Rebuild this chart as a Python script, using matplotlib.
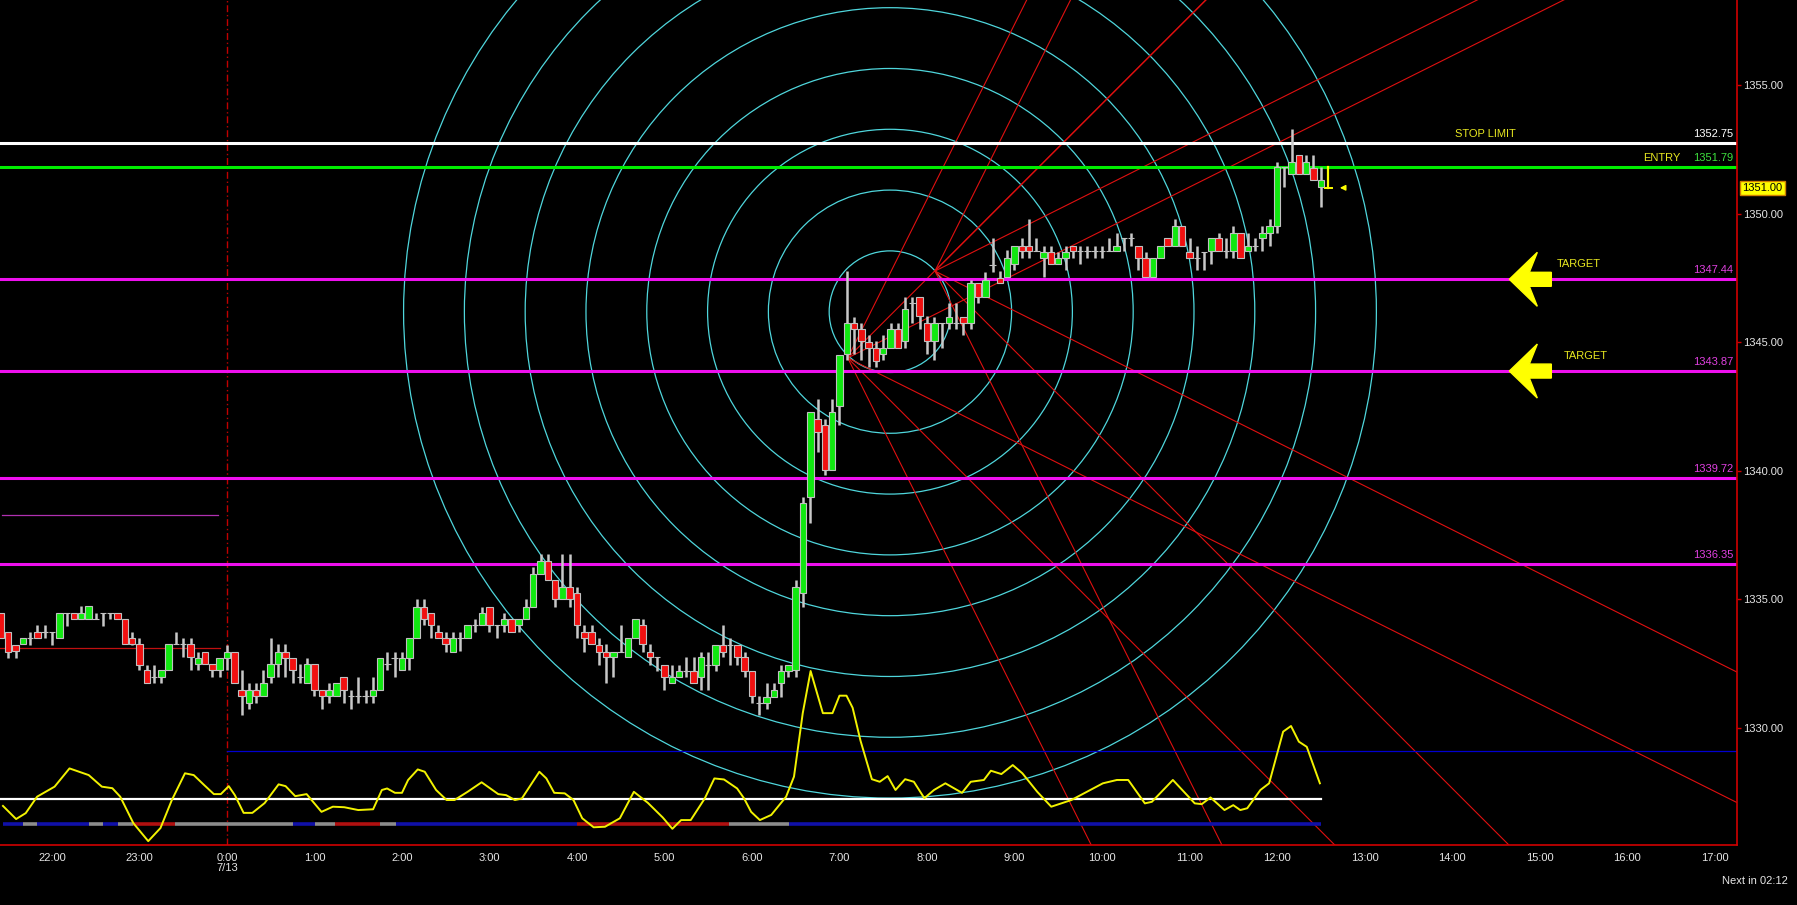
import numpy as np
import matplotlib
matplotlib.use("Agg")
import matplotlib.pyplot as plt
from matplotlib.patches import Ellipse
from matplotlib.transforms import blended_transform_factory

plt.rcParams['font.family'] = ['Liberation Sans', 'DejaVu Sans']

# ---------------- data ----------------
first_bar_hour = -31 / 12.0          # 21:25 on the previous day, 5-minute bars
opens = [
    1334.47, 1333.73, 1333.21, 1333.24, 1333.47, 1333.73, 1333.73, 1333.73, 1333.47, 1334.47,
    1334.47, 1334.21, 1334.21, 1334.21, 1334.47, 1334.47, 1334.47, 1334.21, 1333.47, 1333.24,
    1332.24, 1331.95, 1331.95, 1332.24, 1333.24, 1333.24, 1333.24, 1332.47, 1332.95, 1332.47,
    1332.24, 1332.72, 1332.95, 1331.48, 1330.97, 1331.48, 1331.22, 1331.95, 1332.47, 1332.95,
    1332.72, 1331.95, 1331.72, 1332.47, 1331.48, 1331.22, 1331.22, 1331.95, 1331.22, 1331.22,
    1331.22, 1331.22, 1331.48, 1332.47, 1332.72, 1332.24, 1332.72, 1333.47, 1334.70, 1334.47,
    1333.73, 1333.47, 1332.95, 1333.47, 1333.47, 1333.99, 1333.99, 1334.70, 1333.99, 1333.99,
    1334.22, 1333.99, 1334.22, 1334.70, 1335.99, 1336.49, 1335.74, 1334.99, 1335.48, 1335.22,
    1333.73, 1333.73, 1333.21, 1332.95, 1332.73, 1332.95, 1332.73, 1333.47, 1333.99, 1332.95,
    1332.73, 1332.43, 1331.72, 1331.95, 1332.20, 1332.20, 1331.95, 1332.43, 1332.43, 1333.21,
    1333.21, 1333.21, 1332.73, 1332.20, 1330.97, 1330.97, 1331.20, 1331.72, 1332.20, 1332.24,
    1335.22, 1338.98, 1341.99, 1341.77, 1340.02, 1342.52, 1344.53, 1345.75, 1345.51, 1345.01,
    1344.75, 1344.53, 1344.75, 1345.51, 1345.05, 1346.50, 1346.76, 1345.75, 1345.05, 1345.75,
    1345.75, 1345.75, 1345.99, 1345.75, 1347.28, 1346.76, 1348.00, 1347.48, 1347.54, 1348.03,
    1348.73, 1348.73, 1348.55, 1348.26, 1348.51, 1348.03, 1348.26, 1348.73, 1348.55, 1348.55,
    1348.55, 1348.55, 1348.55, 1348.55, 1349.03, 1349.03, 1348.73, 1348.26, 1347.54, 1348.26,
    1349.03, 1348.73, 1349.51, 1348.51, 1348.26, 1348.51, 1348.55, 1349.03, 1348.55, 1348.55,
    1349.25, 1348.55, 1348.73, 1349.03, 1349.25, 1349.51, 1351.79, 1351.54, 1352.28, 1351.54,
    1351.76, 1351.04]
highs = [
    1334.47, 1333.73, 1333.21, 1333.47, 1333.73, 1333.99, 1333.99, 1333.73, 1334.47, 1334.47,
    1334.47, 1334.73, 1334.73, 1334.47, 1334.47, 1334.47, 1334.47, 1334.21, 1333.73, 1333.47,
    1332.43, 1332.43, 1332.24, 1333.24, 1333.73, 1333.47, 1333.47, 1332.95, 1332.95, 1332.47,
    1332.72, 1333.21, 1332.95, 1332.24, 1331.72, 1331.72, 1332.24, 1333.47, 1333.24, 1333.24,
    1332.72, 1332.47, 1332.72, 1332.47, 1331.48, 1331.72, 1331.72, 1331.95, 1331.48, 1331.95,
    1331.48, 1331.95, 1332.72, 1332.95, 1332.95, 1332.95, 1333.47, 1334.99, 1334.99, 1334.47,
    1333.99, 1333.73, 1333.73, 1333.73, 1333.99, 1334.22, 1334.70, 1334.70, 1333.99, 1334.47,
    1334.22, 1334.22, 1334.99, 1336.23, 1336.75, 1336.75, 1335.74, 1336.75, 1336.75, 1335.48,
    1333.99, 1333.99, 1333.47, 1333.25, 1332.95, 1333.99, 1333.47, 1334.22, 1334.22, 1333.25,
    1332.73, 1332.43, 1332.43, 1332.43, 1332.73, 1332.73, 1332.95, 1332.95, 1333.21, 1333.99,
    1333.47, 1333.21, 1332.95, 1332.20, 1331.24, 1331.72, 1331.72, 1332.43, 1332.43, 1335.74,
    1338.98, 1342.26, 1342.77, 1341.99, 1342.77, 1344.49, 1347.77, 1345.99, 1345.75, 1345.27,
    1345.05, 1345.27, 1345.75, 1345.75, 1346.76, 1346.76, 1346.76, 1346.01, 1345.99, 1345.75,
    1346.50, 1346.50, 1345.99, 1347.41, 1347.28, 1347.74, 1349.03, 1347.77, 1348.58, 1348.73,
    1349.03, 1349.77, 1349.03, 1348.73, 1348.73, 1348.51, 1348.73, 1348.73, 1348.73, 1348.73,
    1348.73, 1348.73, 1349.03, 1349.25, 1349.03, 1349.25, 1348.73, 1348.51, 1348.26, 1348.73,
    1349.03, 1349.77, 1349.51, 1349.03, 1348.73, 1348.51, 1349.03, 1349.25, 1349.03, 1349.51,
    1349.25, 1349.25, 1349.03, 1349.51, 1349.77, 1352.02, 1351.79, 1353.27, 1352.28, 1352.28,
    1352.28, 1351.79]
lows = [
    1333.47, 1332.72, 1332.72, 1333.24, 1333.21, 1333.47, 1333.47, 1333.21, 1333.47, 1333.96,
    1334.21, 1334.21, 1334.21, 1334.21, 1333.96, 1334.21, 1334.21, 1333.24, 1333.21, 1332.24,
    1331.72, 1331.72, 1331.72, 1332.24, 1333.24, 1332.76, 1332.24, 1332.24, 1332.47, 1331.95,
    1331.95, 1332.24, 1331.72, 1330.49, 1330.71, 1330.97, 1331.22, 1331.72, 1331.95, 1331.95,
    1331.72, 1331.72, 1331.72, 1331.22, 1330.71, 1330.97, 1331.22, 1330.97, 1330.71, 1330.97,
    1330.97, 1330.97, 1331.48, 1332.24, 1331.95, 1332.24, 1332.24, 1333.47, 1333.99, 1333.47,
    1333.47, 1332.95, 1332.95, 1332.99, 1333.47, 1333.73, 1333.99, 1333.73, 1333.47, 1333.73,
    1333.73, 1333.73, 1334.22, 1334.70, 1335.99, 1335.74, 1334.70, 1334.99, 1334.70, 1333.47,
    1332.95, 1333.25, 1332.43, 1331.72, 1331.95, 1332.95, 1332.73, 1333.47, 1332.95, 1332.43,
    1332.20, 1331.46, 1331.72, 1331.95, 1331.95, 1331.72, 1331.46, 1331.46, 1332.20, 1332.73,
    1332.43, 1332.43, 1331.95, 1330.97, 1330.49, 1330.74, 1331.20, 1331.20, 1331.95, 1331.95,
    1334.70, 1337.94, 1340.73, 1339.82, 1340.02, 1341.77, 1344.30, 1344.53, 1344.30, 1344.04,
    1344.04, 1344.30, 1344.75, 1344.75, 1344.75, 1345.75, 1345.51, 1344.53, 1344.30, 1344.75,
    1345.51, 1345.51, 1345.27, 1345.51, 1346.50, 1346.76, 1347.74, 1347.28, 1347.54, 1347.80,
    1348.26, 1348.26, 1348.55, 1347.54, 1348.03, 1348.03, 1347.80, 1348.26, 1348.03, 1348.26,
    1348.26, 1348.26, 1348.55, 1348.55, 1348.55, 1348.73, 1347.80, 1347.54, 1347.54, 1348.26,
    1348.73, 1348.73, 1348.73, 1348.26, 1347.80, 1347.80, 1348.03, 1348.55, 1348.26, 1348.26,
    1348.26, 1348.55, 1348.55, 1348.55, 1348.73, 1349.25, 1351.04, 1351.54, 1351.54, 1351.54,
    1351.30, 1350.27]
closes = [
    1333.47, 1332.95, 1332.98, 1333.47, 1333.47, 1333.47, 1333.73, 1333.73, 1334.47, 1334.47,
    1334.21, 1334.47, 1334.73, 1334.21, 1334.47, 1334.47, 1334.21, 1333.24, 1333.24, 1332.43,
    1331.72, 1331.95, 1332.24, 1333.24, 1333.24, 1333.24, 1332.76, 1332.72, 1332.47, 1332.24,
    1332.72, 1332.95, 1331.72, 1331.22, 1331.48, 1331.22, 1331.72, 1332.47, 1332.95, 1332.72,
    1332.24, 1331.95, 1332.47, 1331.48, 1331.22, 1331.48, 1331.72, 1331.48, 1331.22, 1331.22,
    1331.22, 1331.48, 1332.72, 1332.47, 1332.72, 1332.72, 1333.47, 1334.70, 1334.22, 1333.99,
    1333.47, 1333.25, 1333.47, 1333.47, 1333.99, 1333.99, 1334.47, 1333.99, 1333.99, 1334.22,
    1333.73, 1334.22, 1334.70, 1335.99, 1336.49, 1335.74, 1334.99, 1335.48, 1334.99, 1333.99,
    1333.47, 1333.25, 1332.95, 1332.73, 1332.95, 1332.95, 1333.47, 1334.22, 1333.25, 1332.73,
    1332.73, 1331.95, 1331.95, 1332.20, 1332.20, 1331.72, 1332.73, 1332.43, 1333.21, 1332.95,
    1333.21, 1332.73, 1332.20, 1331.24, 1330.97, 1331.20, 1331.46, 1332.20, 1332.43, 1335.48,
    1338.72, 1342.26, 1341.51, 1340.02, 1342.26, 1344.49, 1345.75, 1345.51, 1345.05, 1344.75,
    1344.26, 1344.75, 1345.51, 1344.75, 1346.27, 1346.50, 1346.01, 1345.05, 1345.75, 1345.75,
    1345.99, 1345.75, 1345.75, 1347.28, 1346.76, 1347.41, 1348.00, 1347.28, 1348.26, 1348.73,
    1348.55, 1348.55, 1348.55, 1348.51, 1348.03, 1348.26, 1348.51, 1348.55, 1348.55, 1348.55,
    1348.55, 1348.55, 1348.55, 1348.73, 1349.03, 1349.03, 1348.26, 1347.54, 1348.26, 1348.73,
    1348.73, 1349.51, 1348.73, 1348.26, 1348.26, 1348.51, 1349.03, 1348.55, 1348.55, 1349.25,
    1348.26, 1348.73, 1348.73, 1349.25, 1349.51, 1351.79, 1351.79, 1352.02, 1351.54, 1352.02,
    1351.30, 1351.30]

# current (forming) bar
cur_open, cur_close = 1351.79, 1351.00
last_price = 1351.00

# oscillator (drawn on the price scale)
osc_hours = [-2.56, -2.41, -2.30, -2.17, -1.97, -1.80, -1.58, -1.43, -1.31, -1.22,
             -1.07, -0.90, -0.76, -0.63, -0.48, -0.38, -0.26, -0.15, -0.07, 0.02,
             0.09, 0.19, 0.29, 0.43, 0.59, 0.67, 0.78, 0.91, 1.08, 1.21,
             1.34, 1.50, 1.67, 1.77, 1.83, 1.92, 2.00, 2.07, 2.18, 2.26,
             2.39, 2.51, 2.60, 2.75, 2.91, 3.10, 3.19, 3.29, 3.37, 3.47,
             3.57, 3.65, 3.74, 3.86, 3.96, 4.06, 4.19, 4.32, 4.49, 4.65,
             4.81, 4.98, 5.09, 5.19, 5.30, 5.46, 5.57, 5.68, 5.83, 5.91,
             5.99, 6.09, 6.22, 6.39, 6.48, 6.58, 6.67, 6.81, 6.92, 7.00,
             7.08, 7.15, 7.24, 7.37, 7.46, 7.55, 7.64, 7.75, 7.85, 7.97,
             8.08, 8.21, 8.40, 8.50, 8.65, 8.73, 8.85, 8.98, 9.09, 9.26,
             9.42, 9.65, 10.01, 10.17, 10.30, 10.49, 10.57, 10.81, 11.06, 11.14,
             11.24, 11.40, 11.50, 11.58, 11.66, 11.81, 11.91, 12.07, 12.16, 12.25,
             12.34, 12.49]
osc_vals = [1326.95, 1326.44, 1326.67, 1327.31, 1327.70, 1328.41, 1328.15, 1327.70, 1327.64, 1327.31,
            1326.28, 1325.58, 1326.09, 1327.18, 1328.22, 1328.15, 1327.76, 1327.41, 1327.41, 1327.72,
            1327.37, 1326.68, 1326.68, 1327.06, 1327.79, 1327.72, 1327.33, 1327.41, 1326.72, 1326.92,
            1326.90, 1326.79, 1326.82, 1327.57, 1327.63, 1327.46, 1327.46, 1327.96, 1328.37, 1328.28,
            1327.57, 1327.18, 1327.18, 1327.50, 1327.87, 1327.41, 1327.37, 1327.18, 1327.24, 1327.76,
            1328.28, 1328.02, 1327.46, 1327.44, 1327.18, 1326.47, 1326.12, 1326.14, 1326.47, 1327.50,
            1327.07, 1326.50, 1326.06, 1326.40, 1326.40, 1327.24, 1328.02, 1327.98, 1327.63, 1327.24,
            1326.72, 1326.40, 1326.60, 1327.31, 1328.09, 1330.56, 1332.20, 1330.56, 1330.56, 1331.24,
            1331.24, 1330.77, 1329.49, 1327.99, 1327.89, 1328.11, 1327.57, 1327.99, 1327.89, 1327.25,
            1327.57, 1327.83, 1327.46, 1327.89, 1327.96, 1328.32, 1328.19, 1328.54, 1328.22, 1327.50,
            1326.92, 1327.18, 1327.83, 1327.96, 1327.96, 1327.05, 1327.11, 1327.96, 1327.05, 1327.02,
            1327.28, 1326.79, 1326.98, 1326.79, 1326.86, 1327.57, 1327.83, 1329.84, 1330.06, 1329.45,
            1329.25, 1327.83]
osc_mid_level = 1327.22
osc_end_hour = 12.5

# state bar of the oscillator: (start hour, end hour, state)
state_starts = [-2.56, -2.33, -2.17, -1.58, -1.42, -1.25, -1.07, -0.59, 0.75, 1.01, 1.24, 1.75, 1.93, 4.00, 5.74, 6.42]
state_ends = [-2.33, -2.17, -1.58, -1.42, -1.25, -1.07, -0.59, 0.75, 1.01, 1.24, 1.75, 1.93, 4.00, 5.74, 6.42, 12.50]
state_kind = ['up', 'flat', 'up', 'flat', 'up', 'flat', 'down', 'flat', 'up', 'flat', 'down', 'flat', 'up', 'down', 'flat', 'up']
state_level = 1326.26

# horizontal levels
stop_limit = 1352.75
entry = 1351.79
targets = [1347.44, 1343.87, 1339.72, 1336.35]
left_red_level = 1333.09
left_purple_level = 1338.27
blue_level = 1329.10

# time axis
hour_ticks = list(range(-2, 18))
hour_labels = ['22:00', '23:00', '0:00\n7/13'] + ['%d:00' % h for h in range(1, 18)]
price_ticks = [1330, 1335, 1340, 1345, 1350, 1355]

# ---------------- figure ----------------
W, H = 1797, 905
fig = plt.figure(figsize=(W / 100, H / 100), dpi=100, facecolor='black')
ax_l, ax_b, ax_w, ax_h = 0.0, 60 / H, 1737 / W, 845 / H
ax = fig.add_axes([ax_l, ax_b, ax_w, ax_h])
ax.set_facecolor('black')
xmin, xmax = -2.594, 17.257
ymin, ymax = 1325.43, 1358.307
ax.set_xlim(xmin, xmax)
ax.set_ylim(ymin, ymax)

pxh = ax_w * W / (xmax - xmin)   # pixels per hour
pxp = ax_h * H / (ymax - ymin)   # pixels per price unit

# circles
cx, cy = 7.577, 1346.18
ring = 60.8
for i in range(1, 9):
    r = ring * i
    ax.add_patch(Ellipse((cx, cy), 2 * r / pxh, 2 * r / pxp, fill=False,
                         edgecolor='#4fd6dc', lw=0.9, zorder=1))

# fan lines (pixel slopes)
origins = [(7.094, 1344.38), (8.091, 1347.76)]
for (t0, p0) in origins:
    for s in [2, 1, 0.5, -0.5, -1, -2]:
        m = -s * pxh / pxp
        ax.plot([t0, t0 + 30], [p0, p0 + m * 30], color='#e01010', lw=0.8, zorder=1.5)

# horizontal levels
ax.axhline(stop_limit, color='white', lw=2.2, zorder=2)
ax.axhline(entry, color='#00ee00', lw=2.2, zorder=2)
for lv in targets:
    ax.axhline(lv, color='#ee10ee', lw=2.2, zorder=2)
ax.plot([xmin, -0.08], [left_red_level] * 2, color='#c01010', lw=0.9, zorder=2)
ax.plot([-2.57, -0.10], [left_purple_level] * 2, color='#b030b0', lw=0.9, zorder=2)
ax.plot([0, xmax], [blue_level] * 2, color='#0000d0', lw=0.9, zorder=2)

# zero line
ax.axvline(0, color='#c00000', lw=1.0, linestyle=(0, (5, 2, 1, 2)), zorder=1.8)

# oscillator
ax.plot([xmin, osc_end_hour], [osc_mid_level] * 2, color='white', lw=1.6, zorder=2.2)
state_colors = {'up': '#1010a8', 'flat': '#8c8c8c', 'down': '#b01010'}
for a, b, k in zip(state_starts, state_ends, state_kind):
    ax.plot([a, b], [state_level] * 2, color=state_colors[k], lw=2.6,
            solid_capstyle='butt', zorder=2.2)
ax.plot(osc_hours, osc_vals, color='#f2f200', lw=1.4, zorder=2.5)

# candles
n = len(opens)
times = first_bar_hour + np.arange(n) / 12.0
o = np.array(opens); c = np.array(closes); hi = np.array(highs); lo = np.array(lows)
ax.vlines(times, lo, hi, color='#c8c8c8', lw=1.8, zorder=3)
body_w = 6.5 / pxh
cols = np.where(c > o, '#10e810', np.where(c < o, '#f01010', '#c8c8c8'))
ax.bar(times, c - o, bottom=o, width=body_w, color=cols, edgecolor='#c0c0c0',
       linewidth=0.8, zorder=3.2)
# current bar
t_cur = first_bar_hour + n / 12.0
ax.plot([t_cur, t_cur], [cur_close, cur_open], color='#ffff00', lw=1.6, zorder=3.3)
ax.plot([t_cur - 3 / pxh, t_cur + 4 / pxh], [cur_close] * 2, color='#ffff00', lw=1.4, zorder=3.3)
ax.annotate('', xy=(t_cur + 9 / pxh, last_price), xytext=(t_cur + 20 / pxh, last_price),
            arrowprops=dict(arrowstyle='-|>', color='#ffff00', lw=1.0, mutation_scale=8),
            zorder=3.3)

# level labels
xr = 1733 / pxh + xmin
lab_off = 4 / pxp
ax.text(xr, stop_limit + lab_off, '%.2f' % stop_limit, color='white', fontsize=8,
        ha='right', va='bottom', zorder=4)
ax.text(xr, entry + lab_off, '%.2f' % entry, color='#3ee03e', fontsize=8,
        ha='right', va='bottom', zorder=4)
for lv in targets:
    ax.text(xr, lv + lab_off, '%.2f' % lv, color='#e040e0', fontsize=8,
            ha='right', va='bottom', zorder=4)
ax.text(14.38, stop_limit + lab_off, 'STOP LIMIT', color='#e8e820', fontsize=8,
        ha='center', va='bottom', zorder=4)
ax.text(16.40, entry + lab_off, 'ENTRY', color='#e8e820', fontsize=8,
        ha='center', va='bottom', zorder=4)
for lv, tx in zip(targets[:2], [15.45, 15.53]):
    ax.text(tx, lv + 10 / pxp, 'TARGET', color='#e8e820', fontsize=8,
            ha='center', va='bottom', zorder=4)

# big yellow arrows on the two first targets
arrow_px = [(0, 0), (28, -27), (20, -7), (42, -7), (42, 7), (20, 7), (28, 27)]
tip_t = 14.655
for lv in targets[:2]:
    xs = [tip_t + dx / pxh for dx, dy in arrow_px]
    ys = [lv - dy / pxp for dx, dy in arrow_px]
    ax.fill(xs, ys, color='#ffff00', zorder=4)

# axes styling
for sp in ['left', 'top']:
    ax.spines[sp].set_visible(False)
for sp in ['right', 'bottom']:
    ax.spines[sp].set_color('#d00000')
    ax.spines[sp].set_linewidth(1.2)
ax.yaxis.tick_right()
ax.set_yticks(price_ticks)
ax.set_yticklabels(['%.2f' % v for v in price_ticks])
ax.set_xticks(hour_ticks)
ax.set_xticklabels(hour_labels, linespacing=1.0)
ax.tick_params(axis='y', colors='#d00000', labelcolor='#e6e6e6', labelsize=8,
               length=3, pad=1.5, width=1)
ax.tick_params(axis='x', colors='#d00000', labelcolor='#e6e6e6', labelsize=8,
               length=0, pad=6)

# current price box
trans = blended_transform_factory(ax.transAxes, ax.transData)
ax.text(1.003, last_price, '%.2f' % last_price, transform=trans, color='black', fontsize=8,
        ha='left', va='center', clip_on=False, zorder=5,
        bbox=dict(boxstyle='square,pad=0.2', facecolor='#ffff00', edgecolor='#d08000', lw=1))

fig.text(1755 / W, 1 - 881 / H, 'Next in 02:12', color='#e6e6e6', fontsize=8,
         ha='center', va='center')

fig.savefig('out.png', dpi=100, facecolor='black')
